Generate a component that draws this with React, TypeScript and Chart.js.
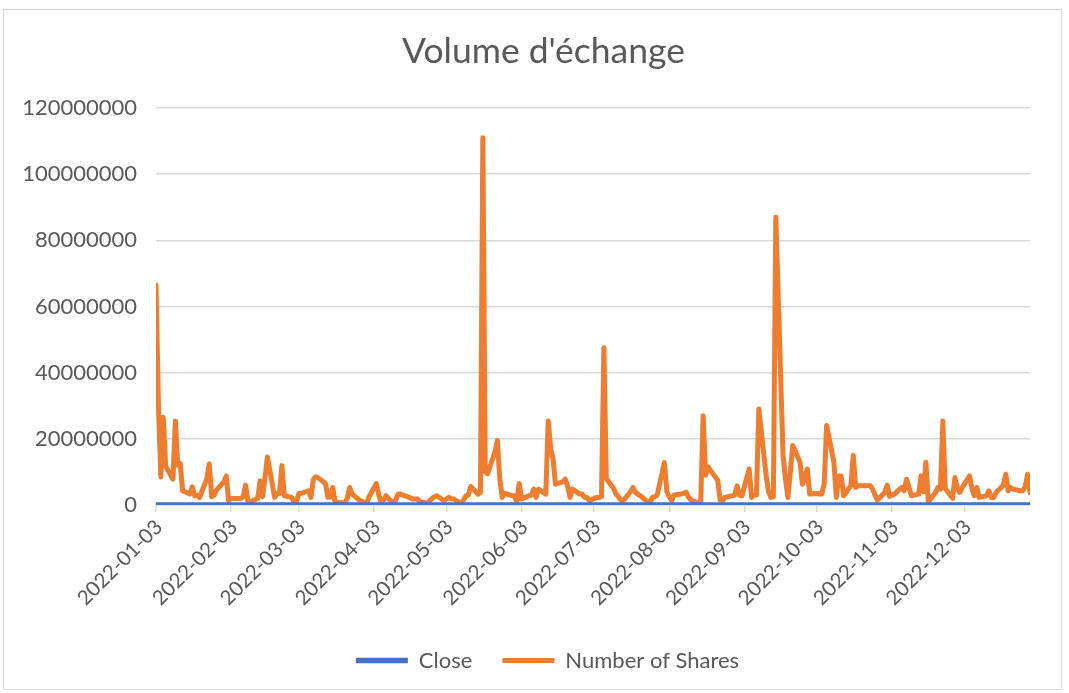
import React, { useEffect, useRef } from "react";
import { Chart, registerables } from "chart.js";

Chart.register(...registerables);

const FONT = "Lato, 'Liberation Sans', sans-serif";
const TEXT = "#595959";
const GRID = "#d9d9d9";
const BLUE = "#4472C4";
const ORANGE = "#ED7D31";

const chartTitle = "Volume d'échange";
const seriesNames = ["Close", "Number of Shares"];
const firstDate = "2022-01-03";
const lastDate = "2022-12-30";
const xTickLabels = [
  "2022-01-03", "2022-02-03", "2022-03-03", "2022-04-03", "2022-05-03", "2022-06-03",
  "2022-07-03", "2022-08-03", "2022-09-03", "2022-10-03", "2022-11-03", "2022-12-03",
];
const yTickValues = [0, 20000000, 40000000, 60000000, 80000000, 100000000, 120000000];

// Number of shares traded, in millions, one value per weekday of each month
const volJan = [66.5, 30, 8.5, 26.5, 11.7, 7.8, 25.4, 12, 12.5, 4.3, 3.3, 5.5, 2.8, 3, 2.3, 8, 12.4, 2.5, 3, 4.5, 7];
const volFeb = [8.8, 1.3, 2, 2, 2, 2.5, 6, 1, 1, 2, 7.3, 2.5, 8, 14.5, 2.3, 3.5, 3.5, 11.9, 2.8, 2.3];
const volMar = [1, 0.8, 3.5, 3.5, 4.3, 2.3, 7.8, 8.5, 8.2, 6.5, 2.3, 2.5, 5.3, 0.8, 0.7, 0.7, 2, 5.3, 3.3, 1.5, 1.2, 0.5, 0.5];
const volApr = [2.5, 6.5, 3, 0.8, 1.5, 2.8, 0.5, 1.5, 3.3, 3.3, 3, 2.2, 1.8, 1.8, 1.8, 1, 0.5, 1.2, 2, 2.5, 2.8];
const volMay = [1.3, 1.8, 2.3, 1.8, 1.8, 0.5, 1.5, 2.8, 3, 5.6, 3.3, 3.8, 111, 10, 9.5, 16, 19.5, 7.8, 2.3, 3.5, 2.8, 2.8];
const volJun = [1, 6.5, 1.8, 2.8, 3, 4.8, 2.3, 4.8, 3.3, 25.4, 17, 14, 6.3, 7, 7.8, 5.8, 2.3, 4.8, 3.3, 3.3, 2.3, 2.3];
const volJul = [1.3, 2.3, 2.3, 2.5, 47.5, 8, 5, 3.3, 2.5, 1.5, 1.3, 4, 5.3, 3.8, 3.3, 2.8, 1, 0.5, 2.3, 2.5, 3];
const volAug = [12.8, 4, 2.5, 1.3, 3, 3.3, 3.5, 3.8, 2.3, 1.5, 0.5, 1, 27, 9, 11.5, 8.5, 7.5, 1.5, 1.3, 2.3, 2.8, 3, 5.8];
const volSep = [3, 2.8, 10.9, 2.3, 3, 3, 29, 9, 4, 2.3, 2.5, 87, 15, 7.8, 2.3, 10, 18, 12.9, 6.3, 8, 10.9, 3.3];
const volOct = [3.5, 3.3, 3.3, 6.5, 24, 12.9, 2.3, 8.8, 8.8, 2.8, 5.8, 15, 5.3, 5.8, 5.8, 5.8, 5.8, 4.8, 3, 1.5, 3.8];
const volNov = [6, 2.6, 3, 3.3, 5.3, 4.3, 7.8, 5.3, 2.8, 3.3, 8.8, 4, 12.9, 1, 3.8, 5.3, 4.8, 25.4, 5, 2, 8.3, 5];
const volDec = [3.8, 5.3, 8.8, 5, 2.8, 5.3, 2.3, 2.8, 4.3, 2.3, 2.3, 3.8, 6, 9.3, 4.3, 5.3, 4.8, 4.3, 4.3, 5.5, 9.3, 3.8];

// Close price: flat along zero at this scale
const closeDates = [firstDate, lastDate];
const closeValues = [0, 0];

const DAY = 86400000;
function toUTC(s: string) {
  const [y, m, d] = s.split("-").map(Number);
  return Date.UTC(y, m - 1, d);
}
function dayIndex(s: string) {
  return Math.round((toUTC(s) - toUTC(firstDate)) / DAY);
}
function weekdayIndices(): number[] {
  const out: number[] = [];
  const end = toUTC(lastDate);
  for (let t = toUTC(firstDate); t <= end; t += DAY) {
    const wd = new Date(t).getUTCDay();
    if (wd !== 0 && wd !== 6) out.push(Math.round((t - toUTC(firstDate)) / DAY));
  }
  return out;
}

// Centre the title and legend the way the reference does (not on the full canvas)
const centerPlugin = {
  id: "centerBoxes",
  beforeDraw(chart: any) {
    if (chart.titleBlock) chart.titleBlock.left = 57;
    if (chart.legend) chart.legend.left = 65;
  },
};

export default function App() {
  const ref = useRef<HTMLCanvasElement>(null);

  useEffect(() => {
    const days = weekdayIndices();
    const vols = [
      ...volJan, ...volFeb, ...volMar, ...volApr, ...volMay, ...volJun,
      ...volJul, ...volAug, ...volSep, ...volOct, ...volNov, ...volDec,
    ];
    const volPts = vols.map((v, i) => ({ x: days[i], y: v * 1e6 }));
    const closePts = closeDates.map((d, i) => ({ x: dayIndex(d), y: closeValues[i] }));
    const font = { family: FONT, size: 22 };
    const xFont = { family: FONT, size: 20.5 };

    const chart = new Chart(ref.current as HTMLCanvasElement, {
      type: "line",
      data: {
        datasets: [
          {
            label: seriesNames[0],
            data: closePts,
            borderColor: BLUE,
            backgroundColor: BLUE,
            borderWidth: 5.5,
            pointRadius: 0,
            borderCapStyle: "round",
            borderJoinStyle: "round",
          },
          {
            label: seriesNames[1],
            data: volPts,
            borderColor: ORANGE,
            backgroundColor: ORANGE,
            borderWidth: 5,
            pointRadius: 0,
            borderCapStyle: "round",
            borderJoinStyle: "round",
          },
        ],
      },
      plugins: [centerPlugin],
      options: {
        responsive: false,
        animation: false,
        layout: { padding: { left: 0, right: 39, top: 0, bottom: 11.5 } },
        plugins: {
          title: {
            display: true,
            text: chartTitle,
            color: TEXT,
            font: { family: FONT, size: 35.5, weight: "normal", lineHeight: 1.2 },
            padding: { top: 30, bottom: 35.4 },
          },
          legend: {
            position: "bottom",
            labels: {
              color: TEXT,
              font,
              usePointStyle: true,
              pointStyle: "line",
              pointStyleWidth: 52,
              boxHeight: 5,
              padding: 30,
            },
          },
          tooltip: { enabled: false },
        },
        scales: {
          x: {
            type: "linear",
            min: 0,
            max: dayIndex(lastDate),
            afterBuildTicks: (s: any) => {
              s.ticks = xTickLabels.map((l) => ({ value: dayIndex(l) }));
            },
            afterFit: (s: any) => {
              s.height = 114.5;
            },
            grid: { drawOnChartArea: false, drawTicks: true, tickLength: 7, color: GRID, lineWidth: 1.5 },
            border: { color: GRID, width: 1.5 },
            ticks: {
              autoSkip: false,
              maxRotation: 45,
              minRotation: 45,
              color: TEXT,
              font: xFont,
              padding: 3,
              labelOffset: 3,
              callback: (_v: any, i: number) => xTickLabels[i],
            },
          },
          y: {
            min: 0,
            max: 120000000,
            afterBuildTicks: (s: any) => {
              s.ticks = yTickValues.map((v) => ({ value: v }));
            },
            afterFit: (s: any) => {
              s.width = 156;
            },
            grid: { color: GRID, lineWidth: 1.5, drawTicks: false },
            border: { display: false },
            ticks: {
              color: TEXT,
              font,
              padding: 19,
              callback: (v: any) => String(v),
            },
          },
        },
      },
    } as any);
    return () => chart.destroy();
  }, []);

  return (
    <div style={{ position: "fixed", left: 0, top: 0, width: 1069, height: 693, background: "#fff" }}>
      <div
        style={{
          position: "absolute",
          left: 3,
          top: 9,
          width: 1059,
          height: 681,
          border: "1px solid #d9d9d9",
          boxSizing: "border-box",
        }}
      />
      <canvas ref={ref} width={1069} height={693} style={{ position: "absolute", left: 0, top: 0 }} />
    </div>
  );
}
